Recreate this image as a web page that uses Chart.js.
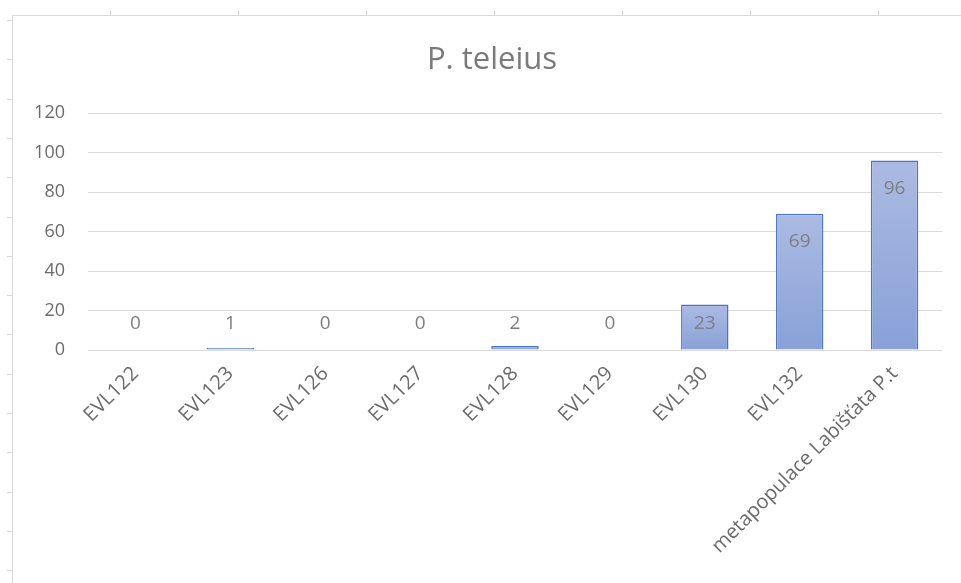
<!DOCTYPE html>
<html>
<head>
<meta charset="utf-8">
<script src="https://cdn.jsdelivr.net/npm/chart.js@4/dist/chart.umd.min.js"></script>
<style>
  html, body { margin: 0; padding: 0; background: #fff; }
  #wrap { width: 961px; height: 583px; }
</style>
</head>
<body>
<div id="wrap"><canvas id="teleiusChart" width="961" height="583"></canvas></div>
<script>
const categories = ['EVL122', 'EVL123', 'EVL126', 'EVL127', 'EVL128', 'EVL129', 'EVL130', 'EVL132', 'metapopulace Labišťata P.t'];
const counts = [0, 1, 0, 0, 2, 0, 23, 69, 96];
const yTicks = [0, 20, 40, 60, 80, 100, 120];

// cell frame of the sheet behind the chart
const sheetFrame = {
    id: 'sheetFrame',
    beforeDraw(chart) {
        const c = chart.ctx;
        c.save();
        c.strokeStyle = '#d9d9d9';
        c.lineWidth = 1;
        c.beginPath();
        c.moveTo(12.5, chart.height);
        c.lineTo(12.5, 15.5);
        c.lineTo(chart.width, 15.5);
        for (let x = 110; x < chart.width; x += 128) {
            c.moveTo(x + 0.5, 15);
            c.lineTo(x + 0.5, 11);
        }
        for (let y = 20; y < chart.height; y += 39.3) {
            c.moveTo(12, Math.round(y) + 0.5);
            c.lineTo(7, Math.round(y) + 0.5);
        }
        c.stroke();
        c.restore();
    }
};

// value labels, Excel "inside end" style
const valueLabels = {
    id: 'valueLabels',
    afterDatasetsDraw(chart) {
        const c = chart.ctx;
        const meta = chart.getDatasetMeta(0);
        c.save();
        c.font = '19px "Open Sans"';
        c.fillStyle = '#7f7f7f';
        c.textAlign = 'center';
        c.textBaseline = 'middle';
        meta.data.forEach((bar, i) => {
            const y = Math.min(bar.y + 28, bar.base - 26);
            c.fillText(String(counts[i]), bar.x, y);
        });
        c.restore();
    }
};

function barFill(context) {
    const chart = context.chart;
    if (!chart.chartArea || context.parsed === undefined) return '#98acdc';
    const ys = chart.scales.y;
    const top = ys.getPixelForValue(context.parsed.y);
    const base = ys.getPixelForValue(0);
    if (base - top < 1) return '#8aa2d8';
    const g = chart.ctx.createLinearGradient(0, top, 0, base);
    g.addColorStop(0, '#abbae2');
    g.addColorStop(1, '#89a1d8');
    return g;
}

const ctx = document.getElementById('teleiusChart').getContext('2d');

new Chart(ctx, {
    type: 'bar',
    data: {
        labels: categories,
        datasets: [{
            label: 'P. teleius',
            data: counts,
            backgroundColor: barFill,
            borderColor: '#4a76c6',
            borderWidth: 1.5,
            borderSkipped: 'bottom',
            barPercentage: 0.5,
            categoryPercentage: 1.0
        }]
    },
    options: {
        responsive: false,
        animation: false,
        layout: {
            padding: { left: 23, right: 0, top: 0, bottom: 0 }
        },
        scales: {
            y: {
                min: 0,
                max: 120,
                afterBuildTicks(scale) {
                    scale.ticks = yTicks.map(v => ({ value: v }));
                },
                afterFit(scale) {
                    scale.width = 65;
                },
                border: { display: false },
                grid: {
                    color: '#d9d9d9',
                    lineWidth: 1,
                    drawTicks: false
                },
                ticks: {
                    padding: 23,
                    color: '#6b6b6b',
                    font: { family: 'Open Sans', size: 18 }
                }
            },
            // empty right gutter so the title centres on the chart frame
            gutter: {
                position: 'right',
                min: 0,
                max: 120,
                afterFit(scale) {
                    scale.width = 19;
                },
                border: { display: false },
                grid: { display: false },
                ticks: { display: false }
            },
            x: {
                afterFit(scale) {
                    scale.height = 233;
                },
                border: { display: false },
                grid: { display: false },
                ticks: {
                    minRotation: 45,
                    maxRotation: 45,
                    autoSkip: false,
                    padding: 4,
                    color: '#6b6b6b',
                    font: { family: 'Open Sans', size: 20 }
                }
            }
        },
        plugins: {
            legend: { display: false },
            tooltip: { enabled: false },
            title: {
                display: true,
                text: 'P. teleius',
                color: '#7a7a7a',
                font: { family: 'Open Sans', size: 31, weight: 'normal' },
                padding: { top: 42, bottom: 34 }
            }
        }
    },
    plugins: [sheetFrame, valueLabels]
});
</script>
</body>
</html>
